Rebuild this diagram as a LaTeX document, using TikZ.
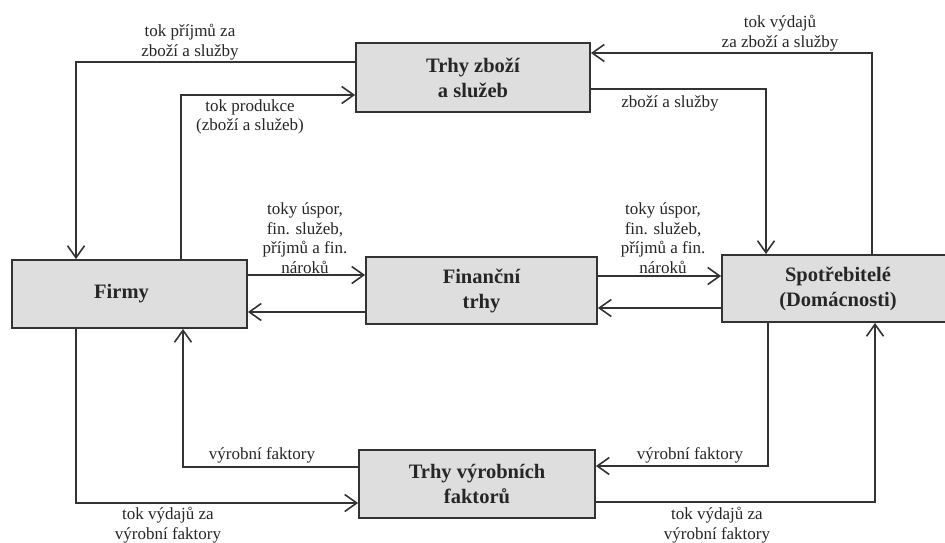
\documentclass[tikz,border=0pt]{standalone}
\usepackage{fontspec}
\setmainfont{Liberation Serif}
\usetikzlibrary{arrows.meta}
\definecolor{ink}{HTML}{333333}
\definecolor{boxfill}{HTML}{DEDEDE}
\tikzset{
  mbox/.style={draw=ink, line width=1.8pt, fill=boxfill, align=center,
    font=\fontsize{20.5}{25}\selectfont\bfseries, text=black!85, inner sep=0pt},
  arr/.style={draw=ink, line width=1.8pt, -{Straight Barb[length=12pt,width=17pt,line width=1.6pt]}},
  lbl/.style={align=center, font=\fontsize{17}{19.5}\selectfont, text=black!85, inner sep=0pt}
}
\begin{document}
\begin{tikzpicture}[x=1pt,y=-1pt]
\path[use as bounding box, fill=white] (0,0) rectangle (945,543);
\clip (0,0) rectangle (945,543);
% boxes
\node[mbox, minimum width=234pt, minimum height=69pt] (tz) at (473,77.5) {Trhy zboží\\a služeb};
\node[mbox, minimum width=235pt, minimum height=68pt] (fi) at (129.5,294) {Firmy\hspace{16pt}};
\node[mbox, minimum width=231pt, minimum height=67pt] (ft) at (481.5,290.5) {Finanční\\trhy};
\node[mbox, minimum width=232pt, minimum height=67pt] (sp) at (838,288.5) {Spotřebitelé\\(Domácnosti)\hspace{8pt}};
\node[mbox, minimum width=236pt, minimum height=68pt] (tv) at (477,484) {Trhy výrobních\\faktorů};
% bend coordinates
\coordinate (c1) at (76,62);
\coordinate (c2) at (181,95);
\coordinate (c3) at (766,89);
\coordinate (c4) at (872,53);
\coordinate (c5) at (0,275);
\coordinate (c6) at (0,312);
\coordinate (c7) at (0,276);
\coordinate (c8) at (0,308);
\coordinate (c9) at (768,466);
\coordinate (c10) at (875,502);
\coordinate (c11) at (183,467);
\coordinate (c12) at (76,503);
% connectors
\draw[arr] (tz.west |- c1) -| (c1 |- fi.north);
\draw[arr] (c2 |- fi.north) |- (tz.west |- c2);
\draw[arr] (tz.east |- c3) -| (c3 |- sp.north);
\draw[arr] (c4 |- sp.north) |- (tz.east |- c4);
\draw[arr] (fi.east |- c5) -- (ft.west |- c5);
\draw[arr] (ft.west |- c6) -- (fi.east |- c6);
\draw[arr] (ft.east |- c7) -- (sp.west |- c7);
\draw[arr] (sp.west |- c8) -- (ft.east |- c8);
\draw[arr] (c9 |- sp.south) |- (tv.east |- c9);
\draw[arr] (tv.east |- c10) -| (c10 |- sp.south);
\draw[arr] (tv.west |- c11) -| (c11 |- fi.south);
\draw[arr] (c12 |- fi.south) |- (tv.west |- c12);
% labels
\node[lbl] (l1) at (190,42) {tok příjmů za\\zboží a služby};
\node[lbl] (l2) at (250,117) {tok produkce\\(zboží a služeb)};
\node[lbl] (l3) at (670,103) {zboží a služby};
\node[lbl] (l4) at (780,33) {tok výdajů\\za zboží a služby};
\node[lbl] (l5) at (305,238) {toky úspor,\\fin. služeb,\\příjmů a fin.\\nároků};
\node[lbl] (l6) at (663,238) {toky úspor,\\fin. služeb,\\příjmů a fin.\\nároků};
\node[lbl] (l7) at (262,455) {výrobní faktory};
\node[lbl] (l8) at (690,455) {výrobní faktory};
\node[lbl] (l9) at (168,525) {tok výdajů za\\výrobní faktory};
\node[lbl] (l10) at (717,525) {tok výdajů za\\výrobní faktory};
\end{tikzpicture}
\end{document}
